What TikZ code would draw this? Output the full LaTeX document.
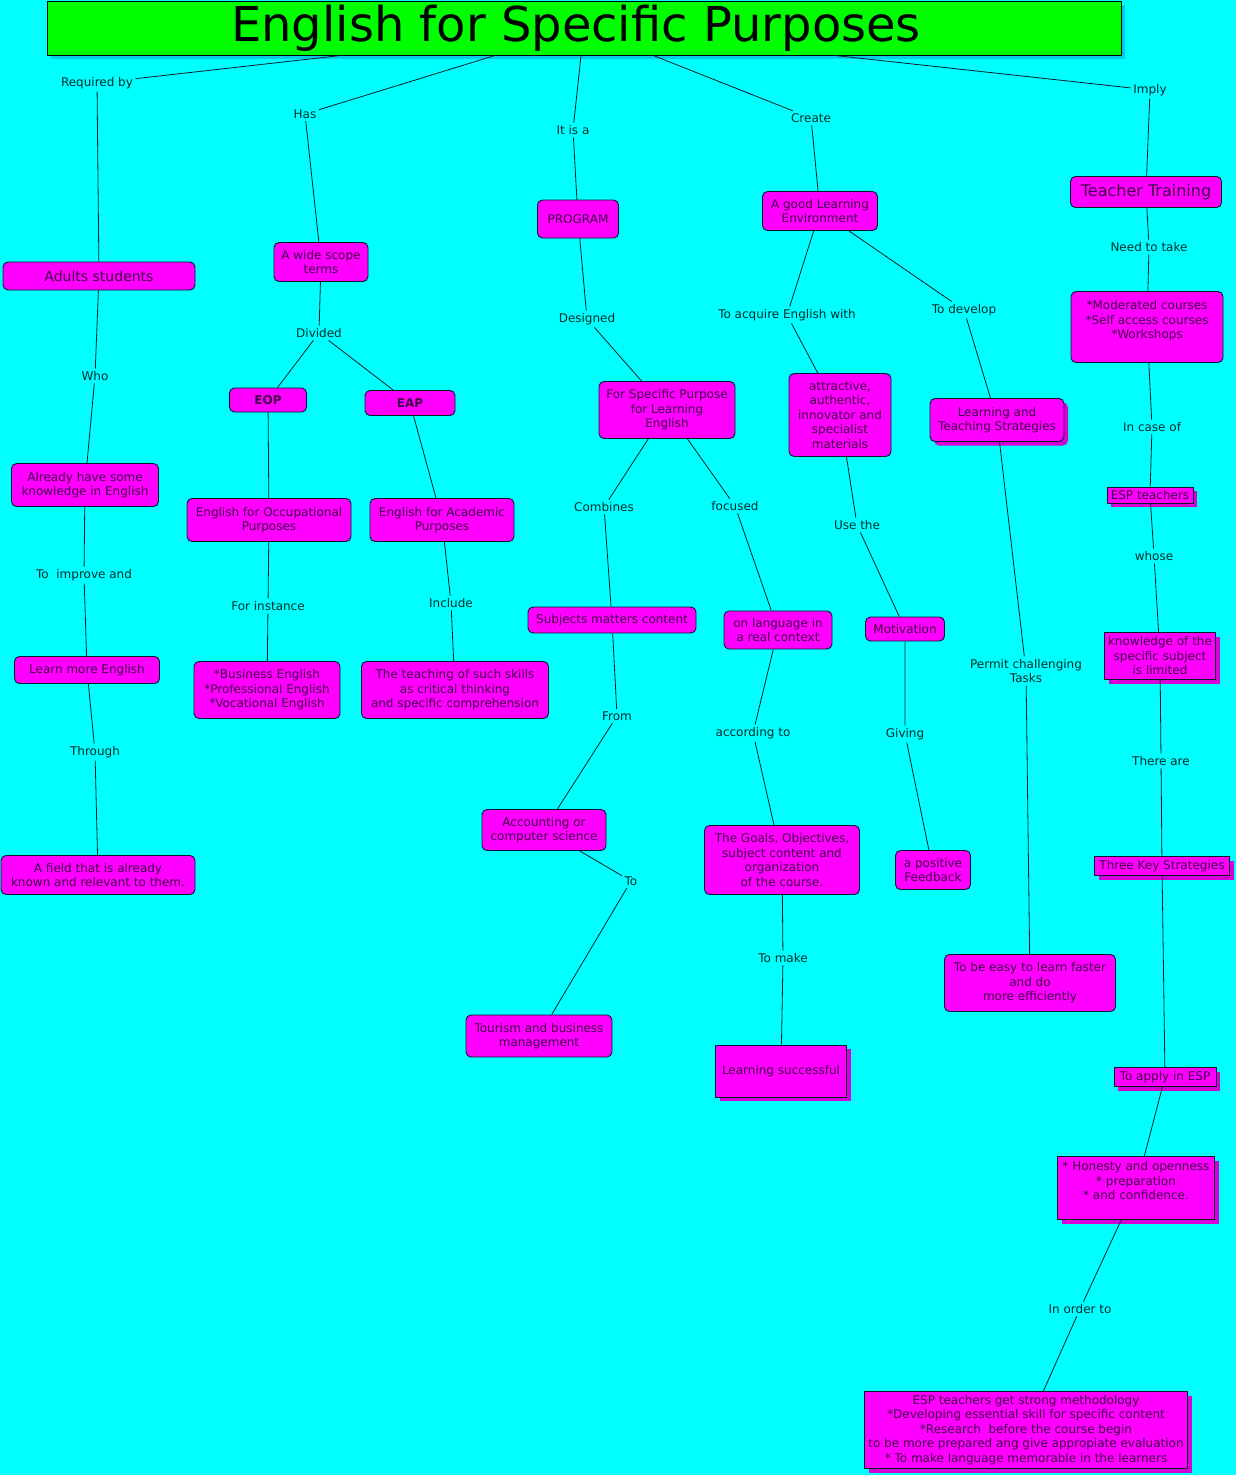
\documentclass[tikz,border=0pt]{standalone}
\usepackage{fontspec}
\setmainfont{DejaVu Sans}
\usetikzlibrary{shadows}
\definecolor{bgcyan}{RGB}{0,255,255}
\definecolor{titlegreen}{RGB}{0,255,0}
\definecolor{boxmag}{RGB}{255,0,255}
\definecolor{shademag}{RGB}{215,0,215}
\definecolor{shadecyan}{RGB}{0,205,230}
\definecolor{boxtext}{RGB}{64,0,72}
\definecolor{linktext}{RGB}{0,45,45}
\definecolor{edge}{RGB}{0,30,40}

\begin{document}
\begin{tikzpicture}[
 x=1pt,y=-1pt,font=\fontsize{12}{14.5}\selectfont,
 concept/.style={draw=edge,fill=boxmag,text=boxtext,rounded corners=5pt,
                 align=center,inner sep=1.5pt,line width=0.9pt},
 shadowed/.style={drop shadow={shadow xshift=4pt,shadow yshift=-4pt,
                 fill=shademag,draw=none,opacity=1}},
 flatbox/.style={concept,rounded corners=0pt,shadowed},
 box size/.style 2 args={minimum width=#1,minimum height=#2},
 linklabel/.style={text=linktext,align=center,inner sep=2.5pt},
 conn/.style={draw=edge,line width=0.8pt}]
\useasboundingbox (0,0) rectangle (1236,1475);
\fill[bgcyan] (0,0) rectangle (1236,1475);
% title
\node[draw=black,fill=titlegreen,line width=0.9pt,box size={1074pt}{54pt},
 font=\fontsize{48}{50}\selectfont,
 drop shadow={shadow xshift=4pt,shadow yshift=-4pt,fill=shadecyan,draw=none,opacity=1}]
 (title) at (584,28) {English for Specific Purposes\hspace*{16pt}};
% first row
\node[linklabel] (lReq) at (97,83) {Required by};
\node[linklabel] (lHas) at (305,114) {Has};
\node[linklabel] (lIsA) at (573,130) {It is a};
\node[linklabel] (lCreate) at (811,118) {Create};
\node[linklabel] (lImply) at (1150,90) {Imply};
\node[concept,box size={192pt}{28pt},font=\fontsize{14}{16}\selectfont] (adults) at (99,276) {Adults students};
\node[concept,box size={94pt}{39pt}] (scope) at (321,262) {A wide scope\\terms};
\node[concept,box size={81pt}{38pt}] (program) at (578,219) {PROGRAM};
\node[concept,box size={115pt}{39pt}] (envir) at (820,211) {A good Learning\\Environment};
\node[concept,box size={151pt}{31pt},font=\fontsize{16}{18}\selectfont] (training) at (1146,192) {Teacher Training};
\draw[conn] (title) -- (lReq) -- (adults);
\draw[conn] (title) -- (lHas) -- (scope);
\draw[conn] (title) -- (lIsA) -- (program);
\draw[conn] (title) -- (lCreate) -- (envir);
\draw[conn] (title) -- (lImply) -- (training);
% left column
\node[linklabel] (lWho) at (95,376) {Who};
\node[concept,box size={147pt}{43pt}] (already) at (85,485) {Already have some\\knowledge in English};
\node[linklabel] (lImprove) at (84,575) {To\ \ improve and};
\node[concept,box size={145pt}{27pt}] (learnmore) at (87,670) {Learn more English};
\node[linklabel] (lThrough) at (95,752) {Through};
\node[concept,box size={194pt}{39pt}] (field) at (98,875) {A field that is already\\known and relevant to them.};
\draw[conn] (adults) -- (lWho) -- (already);
\draw[conn] (already) -- (lImprove) -- (learnmore);
\draw[conn] (learnmore) -- (lThrough) -- (field);
% EOP / EAP
\node[linklabel] (lDivided) at (319,333) {Divided};
\node[concept,box size={77pt}{24pt},font=\fontsize{12}{14.5}\selectfont\bfseries] (eop) at (268,400) {EOP};
\node[concept,box size={90pt}{25pt},font=\fontsize{12}{14.5}\selectfont\bfseries] (eap) at (410,403) {EAP};
\node[concept,box size={164pt}{43pt}] (eopfull) at (269,520) {English for Occupational\\Purposes};
\node[concept,box size={144pt}{43pt}] (eapfull) at (442,520) {English for Academic\\Purposes};
\node[linklabel] (lInstance) at (268,606) {For instance};
\node[linklabel] (lInclude) at (451,603) {Include};
\node[concept,box size={146pt}{57pt}] (business) at (267,690) {*Business English\\*Professional English\\*Vocational English};
\node[concept,box size={187pt}{57pt}] (skills) at (455,690) {The teaching of such skills\\as critical thinking\\and specific comprehension};
\draw[conn] (scope) -- (lDivided) -- (eop);
\draw[conn] (lDivided) -- (eap);
\draw[conn] (eop) -- (eopfull);
\draw[conn] (eap) -- (eapfull);
\draw[conn] (eopfull) -- (lInstance) -- (business);
\draw[conn] (eapfull) -- (lInclude) -- (skills);
% program branch
\node[linklabel] (lDesigned) at (587,319) {Designed};
\node[concept,box size={136pt}{57pt}] (fsp) at (667,410) {For Specific Purpose\\for Learning\\English};
\node[linklabel] (lCombines) at (604,507) {Combines};
\node[linklabel] (lFocused) at (735,506) {focused};
\node[concept,box size={168pt}{26pt}] (subjects) at (612,620) {Subjects matters content};
\node[concept,box size={108pt}{38pt}] (onlang) at (778,630) {on language in\\a real context};
\node[linklabel] (lFrom) at (617,716) {From};
\node[concept,box size={124pt}{41pt}] (account) at (544,830) {Accounting or\\computer science};
\node[linklabel] (lTo) at (631,881) {To};
\node[concept,box size={146pt}{42pt}] (tourism) at (539,1036) {Tourism and business\\management};
\node[linklabel] (lAccording) at (753,733) {according to};
\node[concept,box size={155pt}{69pt}] (goals) at (782,860) {The Goals, Objectives,\\subject content and\\organization\\of the course.};
\node[linklabel] (lMake) at (783,958) {To make};
\node[flatbox,box size={131pt}{52pt}] (successful) at (781,1071) {Learning successful};
\draw[conn] (program) -- (lDesigned) -- (fsp);
\draw[conn] (fsp) -- (lCombines) -- (subjects);
\draw[conn] (fsp) -- (lFocused) -- (onlang);
\draw[conn] (subjects) -- (lFrom) -- (account);
\draw[conn] (account) -- (lTo) -- (tourism);
\draw[conn] (onlang) -- (lAccording) -- (goals);
\draw[conn] (goals) -- (lMake) -- (successful);
% environment branch
\node[linklabel] (lAcquire) at (787,315) {To acquire English with};
\node[linklabel] (lDevelop) at (964,310) {To develop};
\node[concept,box size={102pt}{83pt}] (attract) at (840,415) {attractive,\\authentic,\\innovator and\\specialist\\materials};
\node[concept,shadowed,box size={134pt}{43pt}] (strateg) at (997,420) {Learning and\\Teaching Strategies};
\node[linklabel] (lUse) at (857,525) {Use the};
\node[concept,box size={79pt}{24pt}] (motiv) at (905,629) {Motivation};
\node[linklabel] (lGiving) at (905,734) {Giving};
\node[concept,box size={75pt}{39pt}] (feedback) at (933,870) {a positive\\Feedback};
\node[linklabel] (lPermit) at (1026,671) {Permit challenging\\Tasks};
\node[concept,box size={171pt}{57pt}] (easy) at (1030,983) {To be easy to learn faster\\and do\\more efficiently};
\draw[conn] (envir) -- (lAcquire) -- (attract);
\draw[conn] (envir) -- (lDevelop) -- (strateg);
\draw[conn] (attract) -- (lUse) -- (motiv);
\draw[conn] (motiv) -- (lGiving) -- (feedback);
\draw[conn] (strateg) -- (lPermit) -- (easy);
% teacher training branch
\node[linklabel] (lNeed) at (1149,247) {Need to take};
\node[concept,box size={152pt}{71pt}] (courses) at (1147,327) {*Moderated courses\\*Self access courses\\*Workshops\\~};
\node[linklabel] (lCase) at (1152,427) {In case of};
\node[flatbox,box size={86pt}{16pt},inner ysep=0.5pt] (espteach) at (1150,495) {ESP teachers};
\node[linklabel] (lWhose) at (1154,556) {whose};
\node[flatbox,box size={111pt}{47pt}] (knowledge) at (1160,656) {knowledge of the\\specific subject\\is limited};
\node[linklabel] (lThere) at (1161,761) {There are};
\node[flatbox,box size={135pt}{19pt},inner ysep=0.5pt] (threekey) at (1162,866) {Three Key Strategies};
\node[flatbox,box size={102pt}{19pt},inner ysep=0.5pt] (applyesp) at (1165,1077) {To apply in ESP};
\node[flatbox,box size={157pt}{63pt}] (honesty) at (1136,1188) {* Honesty and openness\\* preparation\\* and confidence.\\~};
\node[linklabel] (lOrder) at (1080,1309) {In order to};
\node[flatbox,box size={323pt}{77pt}] (method) at (1026,1430) {ESP teachers get strong methodology\\*Developing essential skill for specific content\\*Research\ \ before the course begin\\to be more prepared ang give appropiate evaluation\\* To make language memorable in the learners};
\draw[conn] (training) -- (lNeed) -- (courses);
\draw[conn] (courses) -- (lCase) -- (espteach);
\draw[conn] (espteach) -- (lWhose) -- (knowledge);
\draw[conn] (knowledge) -- (lThere) -- (threekey);
\draw[conn] (threekey) -- (applyesp);
\draw[conn] (applyesp) -- (honesty);
\draw[conn] (honesty) -- (lOrder) -- (method);
\end{tikzpicture}
\end{document}
